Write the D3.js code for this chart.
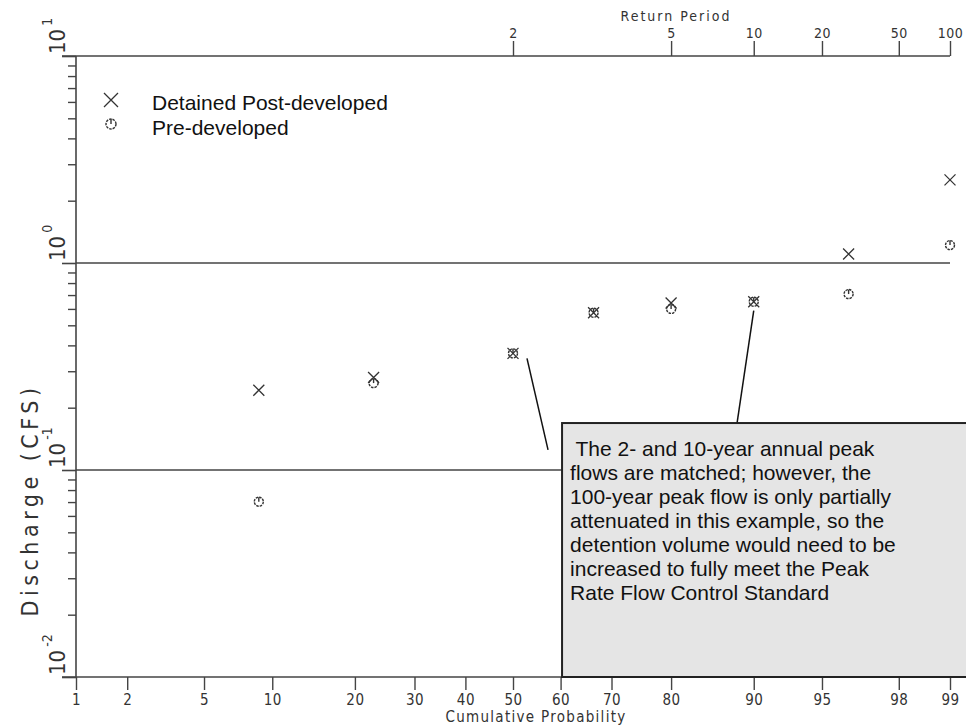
<!DOCTYPE html>
<html>
<head>
<meta charset="utf-8">
<script src="https://cdn.jsdelivr.net/npm/d3@7"></script>
<style>
  body { margin: 0; background: #fff; }
  svg { display: block; }
</style>
</head>
<body>
<div id="chart"></div>
<script>
// cumulative probability of each plotted event (return periods ~1.1 .. 100 yr)
const probs = [0.088, 0.229, 0.5, 0.666, 0.8, 0.9, 0.963, 0.99];
const detained = [0.243, 0.28, 0.366, 0.575, 0.641, 0.65, 1.105, 2.52];
const preDeveloped = [0.0703, 0.263, 0.366, 0.575, 0.60, 0.65, 0.708, 1.22];

const probTicks = [1, 2, 5, 10, 20, 30, 40, 50, 60, 70, 80, 90, 95, 98, 99];
const returnTicks = [2, 5, 10, 20, 50, 100];
const decades = [-2, -1, 0, 1];

const legendLabels = ["Detained Post-developed", "Pre-developed"];
const noteLines = [
  " The 2- and 10-year annual peak",
  "flows are matched; however, the",
  "100-year peak flow is only partially",
  "attenuated in this example, so the",
  "detention volume would need to be",
  "increased to fully meet the Peak",
  "Rate Flow Control Standard"
];

const W = 966, H = 728;
const plotLeft = 76, plotRight = 950, plotTop = 56, plotBottom = 677;
const axisFont = "'DejaVu Sans Condensed', 'DejaVu Sans', sans-serif";
const textFont = "'Liberation Sans', Arial, sans-serif";
const ink = "#333";

// inverse normal cdf (Acklam)
function probit(p) {
  const a = [-3.969683028665376e+01, 2.209460984245205e+02, -2.759285104469687e+02, 1.383577518672690e+02, -3.066479806614716e+01, 2.506628277459239e+00];
  const b = [-5.447609879822406e+01, 1.615858368580409e+02, -1.556989798598866e+02, 6.680131188771972e+01, -1.328068155288572e+01];
  const c = [-7.784894002430293e-03, -3.223964580411365e-01, -2.400758277161838e+00, -2.549732539343734e+00, 4.374664141464968e+00, 2.938163982698783e+00];
  const d = [7.784695709041462e-03, 3.224671290700398e-01, 2.445134137142996e+00, 3.754408661907416e+00];
  const pl = 0.02425;
  let q, r;
  if (p < pl) {
    q = Math.sqrt(-2 * Math.log(p));
    return (((((c[0] * q + c[1]) * q + c[2]) * q + c[3]) * q + c[4]) * q + c[5]) /
      ((((d[0] * q + d[1]) * q + d[2]) * q + d[3]) * q + 1);
  }
  if (p > 1 - pl) {
    q = Math.sqrt(-2 * Math.log(1 - p));
    return -(((((c[0] * q + c[1]) * q + c[2]) * q + c[3]) * q + c[4]) * q + c[5]) /
      ((((d[0] * q + d[1]) * q + d[2]) * q + d[3]) * q + 1);
  }
  q = p - 0.5;
  r = q * q;
  return (((((a[0] * r + a[1]) * r + a[2]) * r + a[3]) * r + a[4]) * r + a[5]) * q /
    (((((b[0] * r + b[1]) * r + b[2]) * r + b[3]) * r + b[4]) * r + 1);
}

const x = d3.scaleLinear().domain([probit(0.01), probit(0.99)]).range([plotLeft, plotRight]);
const px = (p) => x(probit(p));
const y = d3.scaleLog().domain([0.01, 10]).range([plotBottom, plotTop]);

const svg = d3.select("#chart").append("svg")
  .attr("width", W).attr("height", H);

// gridlines at 10^0 and 10^-1
svg.append("g").selectAll("line")
  .data([1, 0.1])
  .enter().append("line")
  .attr("x1", plotLeft).attr("x2", plotRight)
  .attr("y1", (d) => y(d)).attr("y2", (d) => y(d))
  .attr("stroke", "#444").attr("stroke-width", 1.6);

// frame lines
svg.append("line").attr("x1", plotLeft - 14).attr("x2", plotRight).attr("y1", plotTop).attr("y2", plotTop)
  .attr("stroke", "#444").attr("stroke-width", 1.6);
svg.append("line").attr("x1", plotLeft - 14).attr("x2", plotRight).attr("y1", plotBottom).attr("y2", plotBottom)
  .attr("stroke", "#444").attr("stroke-width", 1.6);
svg.append("line").attr("x1", plotLeft).attr("x2", plotLeft).attr("y1", plotTop).attr("y2", plotBottom)
  .attr("stroke", "#444").attr("stroke-width", 1.6);

// bottom axis: cumulative probability
const xAxis = d3.axisBottom(x)
  .tickValues(probTicks.map((t) => probit(t / 100)))
  .tickFormat((d, i) => probTicks[i])
  .tickSize(13).tickPadding(4);
const gx = svg.append("g").attr("transform", `translate(0,${plotBottom})`).call(xAxis);
gx.select(".domain").remove();
gx.selectAll("line").attr("stroke", "#444").attr("stroke-width", 1.4);
gx.selectAll("text").attr("font-family", axisFont).attr("font-size", 15)
  .attr("letter-spacing", 0.5).attr("fill", ink);

// top axis: return period
const topAxis = d3.axisTop(x)
  .tickValues(returnTicks.map((t) => probit(1 - 1 / t)))
  .tickFormat((d, i) => returnTicks[i])
  .tickSize(15).tickPadding(3);
const gt = svg.append("g").attr("transform", `translate(0,${plotTop})`).call(topAxis);
gt.select(".domain").remove();
gt.selectAll("line").attr("stroke", "#444").attr("stroke-width", 1.4);
gt.selectAll("text").attr("font-family", axisFont).attr("font-size", 14)
  .attr("letter-spacing", 0.5).attr("fill", ink);

// left axis: log discharge, minor and major ticks
const minorVals = [];
decades.slice(0, 3).forEach((e) => {
  for (let k = 2; k <= 9; k++) minorVals.push(k * Math.pow(10, e));
});
const gyMinor = svg.append("g").attr("transform", `translate(${plotLeft},0)`)
  .call(d3.axisLeft(y).tickValues(minorVals).tickSize(8).tickFormat(""));
gyMinor.select(".domain").remove();
gyMinor.selectAll("line").attr("stroke", "#444").attr("stroke-width", 1.4);

const gyMajor = svg.append("g").attr("transform", `translate(${plotLeft},0)`)
  .call(d3.axisLeft(y).tickValues(decades.map((e) => Math.pow(10, e))).tickSize(14).tickFormat(""));
gyMajor.select(".domain").remove();
gyMajor.selectAll("line").attr("stroke", "#444").attr("stroke-width", 1.6);

// rotated 10^n labels
const yl = svg.append("g").selectAll("text")
  .data(decades)
  .enter().append("text")
  .attr("transform", (e) => `translate(${plotLeft - 11},${y(Math.pow(10, e)) - 2}) rotate(-90)`)
  .attr("font-family", axisFont).attr("font-size", 22).attr("fill", ink);
yl.append("tspan").text("10");
yl.append("tspan").attr("dy", -13).attr("dx", 3).attr("font-size", 14).text((e) => e);

// axis titles
svg.append("text")
  .attr("transform", `translate(38,500) rotate(-90)`)
  .attr("text-anchor", "middle")
  .attr("font-family", axisFont).attr("font-size", 23).attr("letter-spacing", 4.5)
  .attr("fill", ink).text("Discharge (CFS)");
svg.append("text")
  .attr("x", 536).attr("y", 722).attr("text-anchor", "middle")
  .attr("font-family", axisFont).attr("font-size", 15).attr("letter-spacing", 1.3)
  .attr("fill", ink).text("Cumulative Probability");
svg.append("text")
  .attr("x", 676).attr("y", 21).attr("text-anchor", "middle")
  .attr("font-family", axisFont).attr("font-size", 14).attr("letter-spacing", 2)
  .attr("fill", ink).text("Return Period");

// marker drawers
function drawX(g, s) {
  g.append("path")
    .attr("d", `M${-s},${-s}L${s},${s}M${-s},${s}L${s},${-s}`)
    .attr("stroke", ink).attr("stroke-width", 1.3).attr("fill", "none");
}
function drawO(g, r) {
  g.append("circle").attr("r", r)
    .attr("stroke", ink).attr("stroke-width", 1.4).attr("fill", "none")
    .attr("stroke-dasharray", "2.5,1");
  g.append("path").attr("d", `M0,${-r}L0,0`)
    .attr("stroke", ink).attr("stroke-width", 1.4);
}

// data points
svg.append("g").selectAll("g")
  .data(probs.map((p, i) => ({ p, v: preDeveloped[i] })))
  .enter().append("g")
  .attr("transform", (d) => `translate(${px(d.p)},${y(d.v)})`)
  .each(function () { drawO(d3.select(this), 4.5); });

svg.append("g").selectAll("g")
  .data(probs.map((p, i) => ({ p, v: detained[i] })))
  .enter().append("g")
  .attr("transform", (d) => `translate(${px(d.p)},${y(d.v)})`)
  .each(function () { drawX(d3.select(this), 5.5); });

// legend
const lg = svg.append("g");
drawX(lg.append("g").attr("transform", "translate(111,100)"), 7);
drawO(lg.append("g").attr("transform", "translate(111,124)"), 5);
lg.selectAll("text")
  .data(legendLabels)
  .enter().append("text")
  .attr("x", 152).attr("y", (d, i) => 110 + i * 25)
  .attr("font-family", textFont).attr("font-size", 21).attr("fill", "#111")
  .text((d) => d);

// annotation leader lines (from 2-yr and 10-yr points to the note)
const leaders = [
  { from: [0.5, 0.366], dx: 14, dy: 5, to: [0.574, 0.125] },
  { from: [0.9, 0.65], dx: 0, dy: 9, to: [0.882, 0.151] }
];
svg.append("g").selectAll("line")
  .data(leaders)
  .enter().append("line")
  .attr("x1", (d) => px(d.from[0]) + d.dx).attr("y1", (d) => y(d.from[1]) + d.dy)
  .attr("x2", (d) => px(d.to[0])).attr("y2", (d) => y(d.to[1]))
  .attr("stroke", "#111").attr("stroke-width", 1.5);

// note box (runs off the right edge)
const boxLeft = px(0.603), boxTop = y(0.1686);
svg.append("rect")
  .attr("x", boxLeft).attr("y", boxTop)
  .attr("width", W + 4 - boxLeft).attr("height", plotBottom - boxTop)
  .attr("fill", "#e5e5e5").attr("stroke", "#222").attr("stroke-width", 2);
svg.append("g").selectAll("text")
  .data(noteLines)
  .enter().append("text")
  .attr("x", boxLeft + 8).attr("y", (d, i) => boxTop + 33 + i * 24)
  .attr("font-family", textFont).attr("font-size", 21).attr("fill", "#111")
  .attr("xml:space", "preserve").style("white-space", "pre")
  .text((d) => d);
</script>
</body>
</html>
